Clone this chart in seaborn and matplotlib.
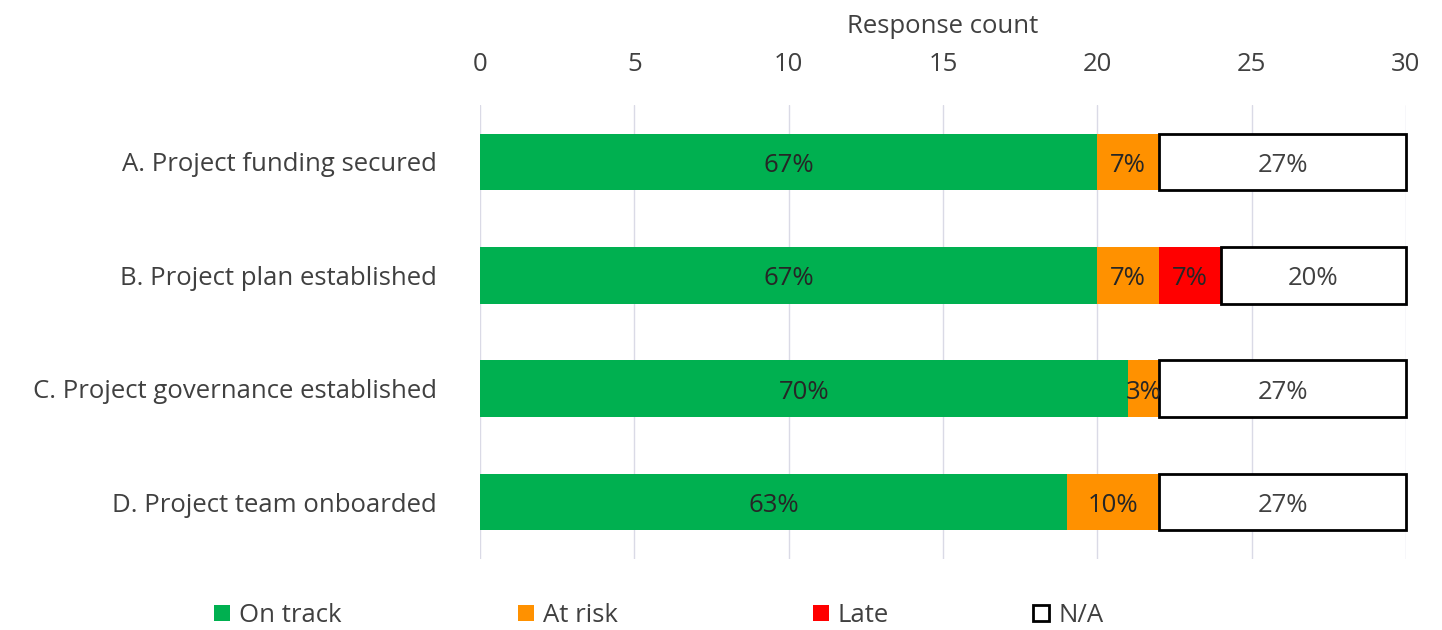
import matplotlib
matplotlib.use("Agg")
import matplotlib.pyplot as plt
from matplotlib.lines import Line2D
import numpy as np
import seaborn as sns

# data (30 responses per task)
tasks = ["A. Project funding secured", "B. Project plan established",
         "C. Project governance established", "D. Project team onboarded"]
statuses = ["On track", "At risk", "Late", "N/A"]
on_track = [20, 20, 21, 19]
at_risk = [2, 2, 1, 3]
late = [0, 2, 0, 0]
na = [8, 6, 8, 8]
total_responses = 30

colors = {"On track": "#00B050", "At risk": "#FF9100", "Late": "#FF0000", "N/A": "#FFFFFF"}

sns.set_style("white")
plt.rcParams["font.family"] = ["Open Sans", "DejaVu Sans"]

fig = plt.figure(figsize=(14.42, 6.3), dpi=100)
ax = fig.add_axes([0.333, 0.113, 0.642, 0.72])

series = {"On track": on_track, "At risk": at_risk, "Late": late, "N/A": na}
left = np.zeros(len(tasks))
for st in statuses:
    vals = np.array(series[st], dtype=float)
    if st == "N/A":
        kw = dict(edgecolor="black", linewidth=2, clip_on=False)
    else:
        kw = dict(linewidth=0)
    sns.barplot(x=vals, y=tasks, orient="h", color=colors[st], saturation=1,
                width=0.5, left=left, ax=ax, **kw)
    for i, v in enumerate(vals):
        if v > 0:
            pct = f"{round(v / total_responses * 100):.0f}%"
            ax.text(left[i] + v / 2, i + 0.03, pct, ha="center", va="center",
                    fontsize=18.5, color="#262626" if st != "N/A" else "#404040")
    left += vals

ax.set_xlim(0, 30)
ax.set_ylim(3.5, -0.5)
ax.set_xticks(range(0, 31, 5))
ax.xaxis.tick_top()
ax.xaxis.set_label_position("top")
ax.set_xlabel("Response count", fontsize=18.5, color="#404040", labelpad=14)
ax.set_ylabel("")
ax.tick_params(axis="x", length=0, labelsize=18.5, labelcolor="#404040", pad=20)
ax.tick_params(axis="y", length=0, labelsize=18.5, labelcolor="#404040", pad=31)
ax.grid(axis="x", color="#DADAE6", linewidth=1)
ax.set_axisbelow(True)
for s in ax.spines.values():
    s.set_visible(False)

# legend entries at the bottom, one per status
legend_x = [0.148, 0.3585, 0.563, 0.716]
for st, lx in zip(statuses, legend_x):
    h = Line2D([], [], marker="s", linestyle="none", markersize=12,
               markerfacecolor=colors[st],
               markeredgecolor="black" if st == "N/A" else colors[st],
               markeredgewidth=2 if st == "N/A" else 0)
    fig.legend([h], [st], loc="lower left", bbox_to_anchor=(lx, 0.003),
               frameon=False, fontsize=18.5, handletextpad=0.3,
               handlelength=0.7, borderpad=0, borderaxespad=0,
               labelcolor="#404040")

fig.savefig("out.png", dpi=100)
